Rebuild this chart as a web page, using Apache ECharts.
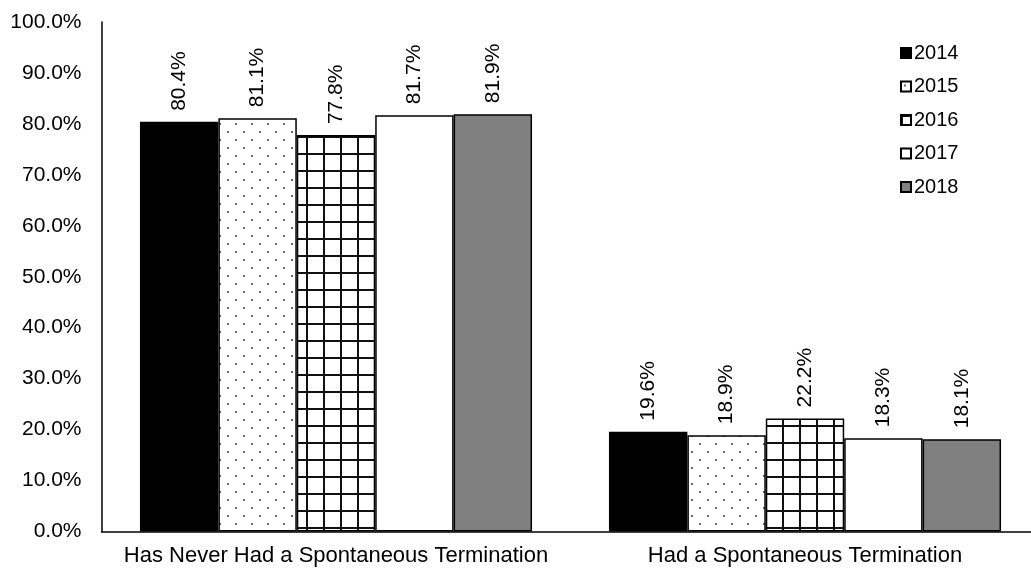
<!DOCTYPE html>
<html>
<head>
<meta charset="utf-8">
<script src="https://cdn.jsdelivr.net/npm/echarts@6/dist/echarts.min.js"></script>
<style>html,body{margin:0;padding:0;background:#fff;}#c{width:1031px;height:571px;}</style>
</head>
<body>
<div id="c"></div>
<script>
const categories = ['Has Never Had a Spontaneous Termination', 'Had a Spontaneous Termination'];
const years = ['2014', '2015', '2016', '2017', '2018'];
const v2014 = [80.4, 19.6];
const v2015 = [81.1, 18.9];
const v2016 = [77.8, 22.2];
const v2017 = [81.7, 18.3];
const v2018 = [81.9, 18.1];
const yTicks = [0, 10, 20, 30, 40, 50, 60, 70, 80, 90, 100];

function dotPattern() {
  const c = document.createElement('canvas');
  c.width = 16; c.height = 16;
  const g = c.getContext('2d');
  g.fillStyle = '#fff'; g.fillRect(0, 0, 16, 16);
  g.fillStyle = '#666';
  g.fillRect(3, 3, 2, 2);
  g.fillRect(11, 11, 2, 2);
  return { image: c, repeat: 'repeat' };
}
function gridPattern() {
  const c = document.createElement('canvas');
  c.width = 17; c.height = 17;
  const g = c.getContext('2d');
  g.fillStyle = '#fff'; g.fillRect(0, 0, 17, 17);
  g.fillStyle = '#111';
  g.fillRect(0, 0, 2, 17);
  g.fillRect(0, 0, 17, 2);
  return { image: c, repeat: 'repeat' };
}

const fills = ['#000000', dotPattern(), gridPattern(), '#ffffff', '#808080'];
const values = [v2014, v2015, v2016, v2017, v2018];
const FONT = 'Liberation Sans, Arial, sans-serif';

const chart = echarts.init(document.getElementById('c'));
chart.setOption({
  animation: false,
  backgroundColor: '#fff',
  grid: { left: 101.5, width: 938, top: 22, bottom: 39.5, containLabel: false, outerBoundsMode: 'none' },
  legend: {
    orient: 'vertical', left: 895, top: 38,
    itemWidth: 10, itemHeight: 10, itemGap: 13.5,
    icon: 'rect',
    textStyle: { fontSize: 20, color: '#000', fontFamily: FONT, padding: [0, 0, 0, -2] },
    data: years
  },
  xAxis: {
    type: 'category', data: categories,
    axisLine: { lineStyle: { color: '#000', width: 1.5 } },
    axisTick: { show: false },
    axisLabel: { fontSize: 22, color: '#000', fontFamily: FONT, margin: 13, interval: 0, hideOverlap: false }
  },
  yAxis: {
    type: 'value', min: 0, max: 100, interval: 10,
    axisLine: { show: true, lineStyle: { color: '#000', width: 1.5 } },
    axisTick: { show: false },
    splitLine: { show: false },
    axisLabel: { fontSize: 21, color: '#000', fontFamily: FONT, margin: 20,
      formatter: v => v.toFixed(1) + '%' }
  },
  series: years.map((y, i) => ({
    name: y, type: 'bar', data: values[i],
    barGap: '0%', barCategoryGap: '16.4%',
    itemStyle: { color: fills[i], borderColor: '#000', borderWidth: 1.5 },
    label: { show: true, position: 'top', rotate: 90, align: 'left', verticalAlign: 'middle',
      distance: 11, fontSize: 21, color: '#000', fontFamily: FONT,
      formatter: p => p.value.toFixed(1) + '%' }
  }))
});
</script>
</body>
</html>
